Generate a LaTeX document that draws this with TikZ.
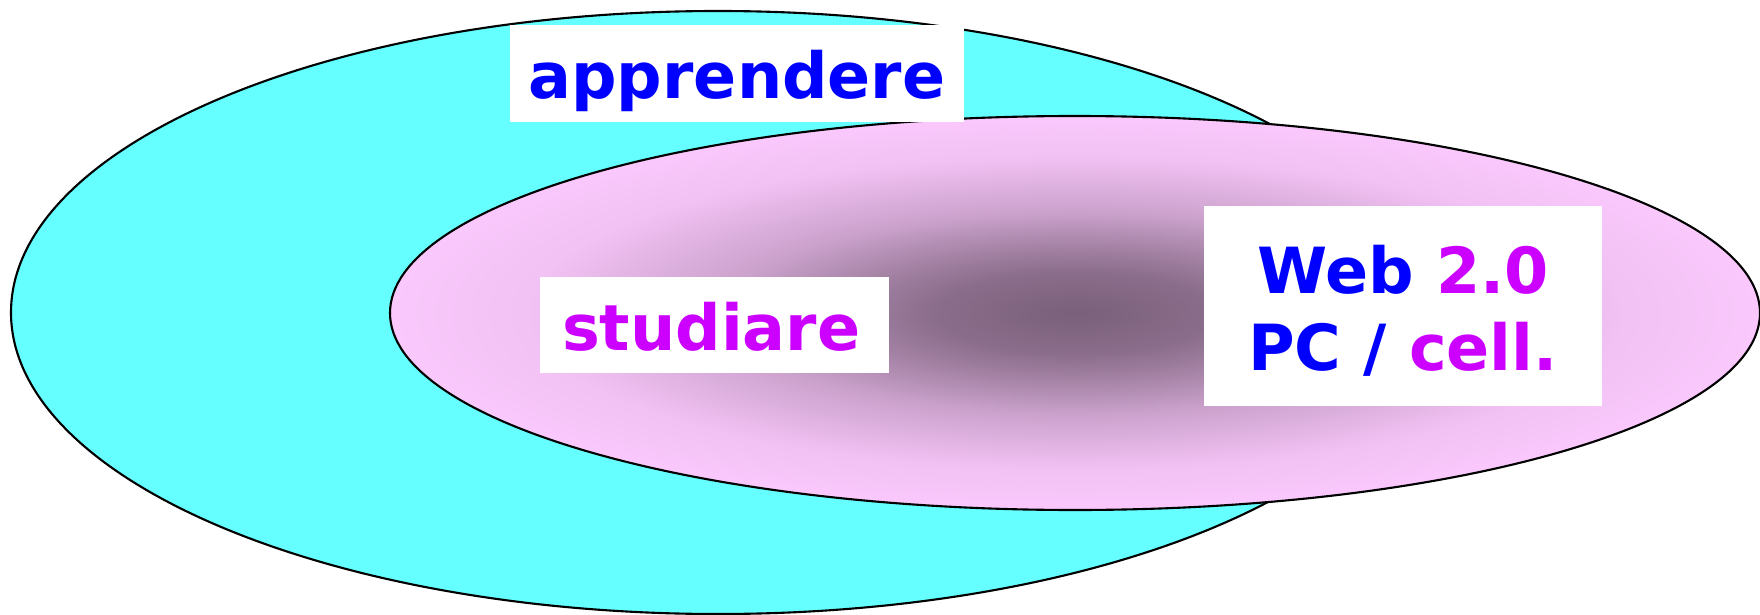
\documentclass[tikz,border=0pt]{standalone}
\usepackage{fontspec}
\setsansfont{DejaVu Sans}
\usepackage{tikz}
\usetikzlibrary{positioning}
\usepackage{xcolor}
\definecolor{learnCyan}{RGB}{102, 255, 255}
\definecolor{studyPink}{RGB}{250, 200, 252}
\definecolor{glowDark}{RGB}{122, 96, 122}
\definecolor{wordBlue}{RGB}{0, 0, 255}
\definecolor{wordViolet}{RGB}{204, 0, 255}
\pgfdeclareradialshading{pinkglow}{\pgfpoint{0bp}{0bp}}{%
  color(0bp)=(glowDark); color(5bp)=(glowDark!88!studyPink);
  color(8bp)=(glowDark!70!studyPink); color(13bp)=(glowDark!36!studyPink);
  color(20bp)=(glowDark!6!studyPink); color(25bp)=(studyPink);
  color(50bp)=(studyPink)}

\begin{document}
\begin{tikzpicture}[
    wordbox/.style={fill=white, inner sep=0pt, text height=0.5cm, text depth=0pt,
      font=\sffamily\bfseries\fontsize{18.1}{21.9}\selectfont}]
  \useasboundingbox (0,0) rectangle (17.6,-6.15);

  % apprendere holds studiare
  \draw[line width=0.6pt, fill=learnCyan] (7.18,-3.125) ellipse (7.07 and 3.015);
  \shadedraw[line width=0.6pt, shading=pinkglow] (10.75,-3.13) ellipse (6.85 and 1.97);

  \node[wordbox, minimum width=4.54cm, minimum height=0.97cm, text=wordBlue]
    (apprendere) at (7.37,-0.735) {apprendere};
  \node[wordbox, minimum width=3.49cm, minimum height=0.96cm, text=wordViolet,
    text width=3.05cm, align=left]
    (studiare) at (7.145,-3.25) {studiare};
  \node[wordbox, minimum width=3.98cm, minimum height=2cm, align=center,
    text=wordBlue, text height=1.28cm]
    (web) at (14.03,-3.06) {Web \textcolor{wordViolet}{2.0}\\PC / \textcolor{wordViolet}{cell.}};
\end{tikzpicture}
\end{document}
